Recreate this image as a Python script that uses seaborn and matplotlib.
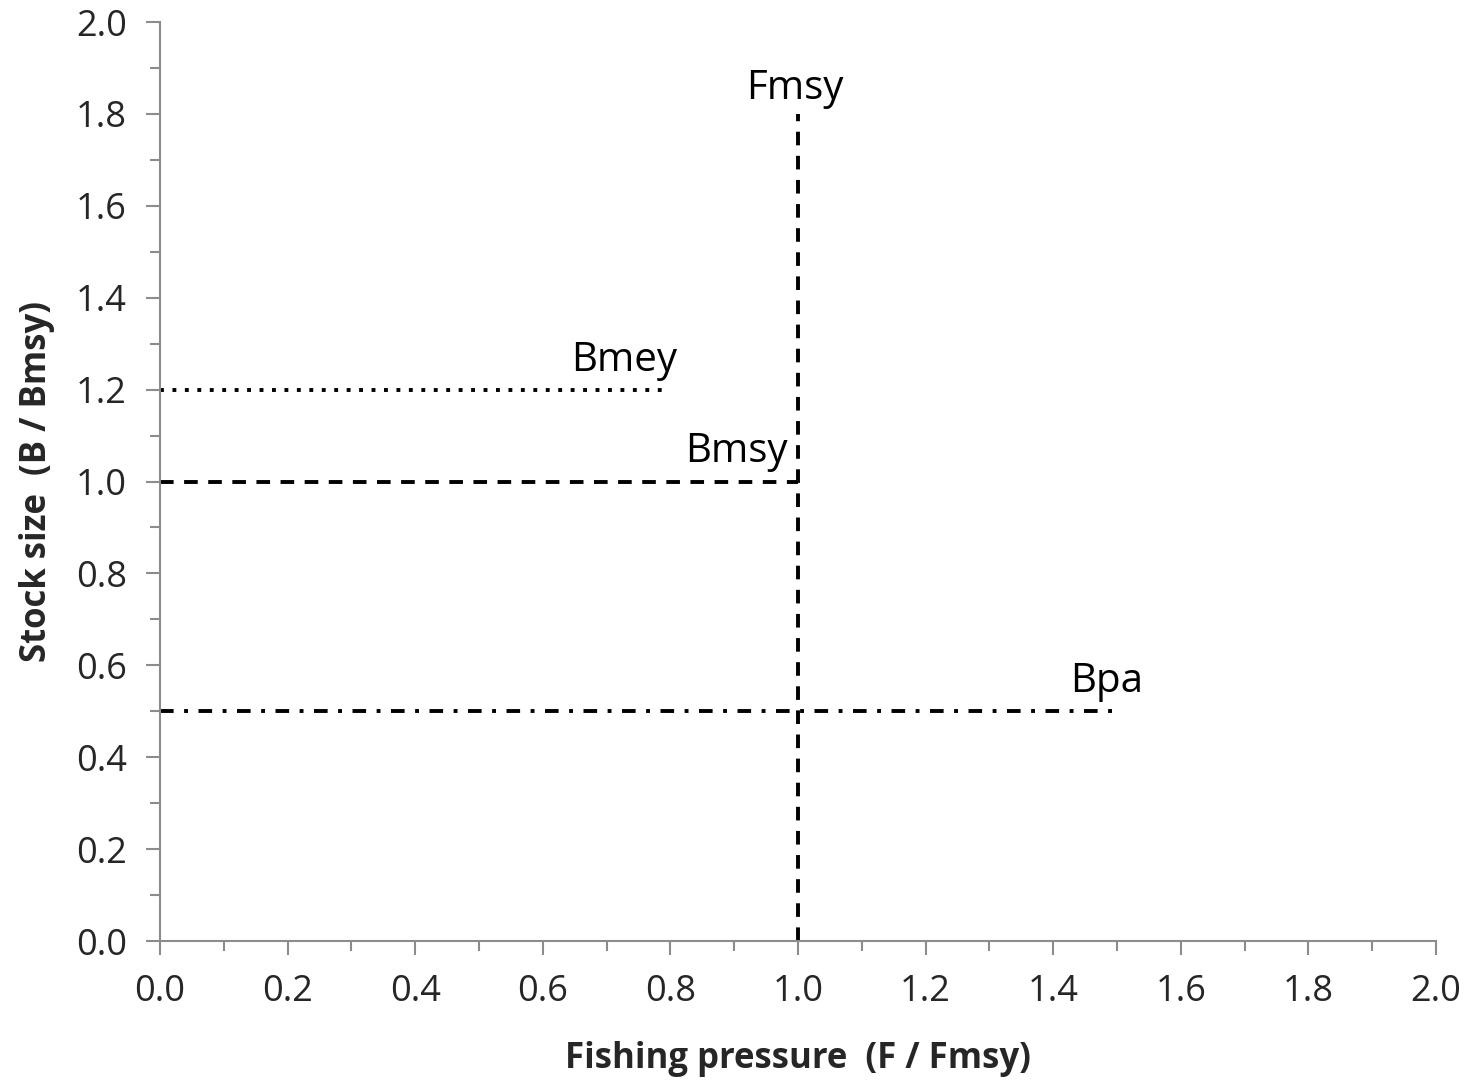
import seaborn as sns
import matplotlib.pyplot as plt
from matplotlib.ticker import MultipleLocator

# Reference points (F / Fmsy, B / Bmsy)
fmsy_x = [1.0, 1.0]
fmsy_y = [0.0, 1.8]
bmey_x = [0.0, 0.8]
bmey_y = [1.2, 1.2]
bmsy_x = [0.0, 1.0]
bmsy_y = [1.0, 1.0]
bpa_x = [0.0, 1.5]
bpa_y = [0.5, 0.5]

labels = ['Fmsy', 'Bmey', 'Bmsy', 'Bpa']
label_x = [0.995, 0.727, 0.904, 1.484]
label_y = [1.855, 1.262, 1.065, 0.565]

sns.set_style('ticks')
plt.rcParams['font.family'] = ['Open Sans', 'DejaVu Sans']

fig = plt.figure(figsize=(14.75, 10.84), dpi=100)
ax = fig.add_axes([0.1085, 0.1319, 0.8651, 0.8478])

line_kw = dict(ax=ax, color='black', lw=2.8, estimator=None, sort=False)
sns.lineplot(x=fmsy_x, y=fmsy_y, linestyle=(0, (3.5, 2.7)), **line_kw)
sns.lineplot(x=bmsy_x, y=bmsy_y, linestyle=(0, (3.5, 2.7)), **line_kw)
sns.lineplot(x=bmey_x, y=bmey_y, linestyle=(0, (1, 2.2)), **line_kw)
sns.lineplot(x=bpa_x, y=bpa_y, linestyle=(0, (3.5, 2.7, 1, 2.7)), **line_kw)

for t, x, y in zip(labels, label_x, label_y):
    ax.text(x, y, t, ha='center', va='center', fontsize=29, color='black')

ax.set_xlim(0, 2)
ax.set_ylim(0, 2)
ax.xaxis.set_major_locator(MultipleLocator(0.2))
ax.xaxis.set_minor_locator(MultipleLocator(0.1))
ax.yaxis.set_major_locator(MultipleLocator(0.2))
ax.yaxis.set_minor_locator(MultipleLocator(0.1))
ax.xaxis.set_major_formatter(lambda v, p: f'{v:.1f}')
ax.yaxis.set_major_formatter(lambda v, p: f'{v:.1f}')

for s in ['top', 'right']:
    ax.spines[s].set_visible(False)
for s in ['left', 'bottom']:
    ax.spines[s].set_color('#8c8c8c')
    ax.spines[s].set_linewidth(1.5)

ax.tick_params(which='major', length=10, width=1.5, color='#8c8c8c', labelsize=26, pad=14)
ax.tick_params(which='minor', length=7, width=1.5, color='#8c8c8c')

ax.set_xlabel('Fishing pressure  (F / Fmsy)', fontsize=25, fontweight='bold', labelpad=22)
ax.set_ylabel('Stock size  (B / Bmsy)', fontsize=25, fontweight='bold', labelpad=15)

fig.savefig('out.png', dpi=100)
